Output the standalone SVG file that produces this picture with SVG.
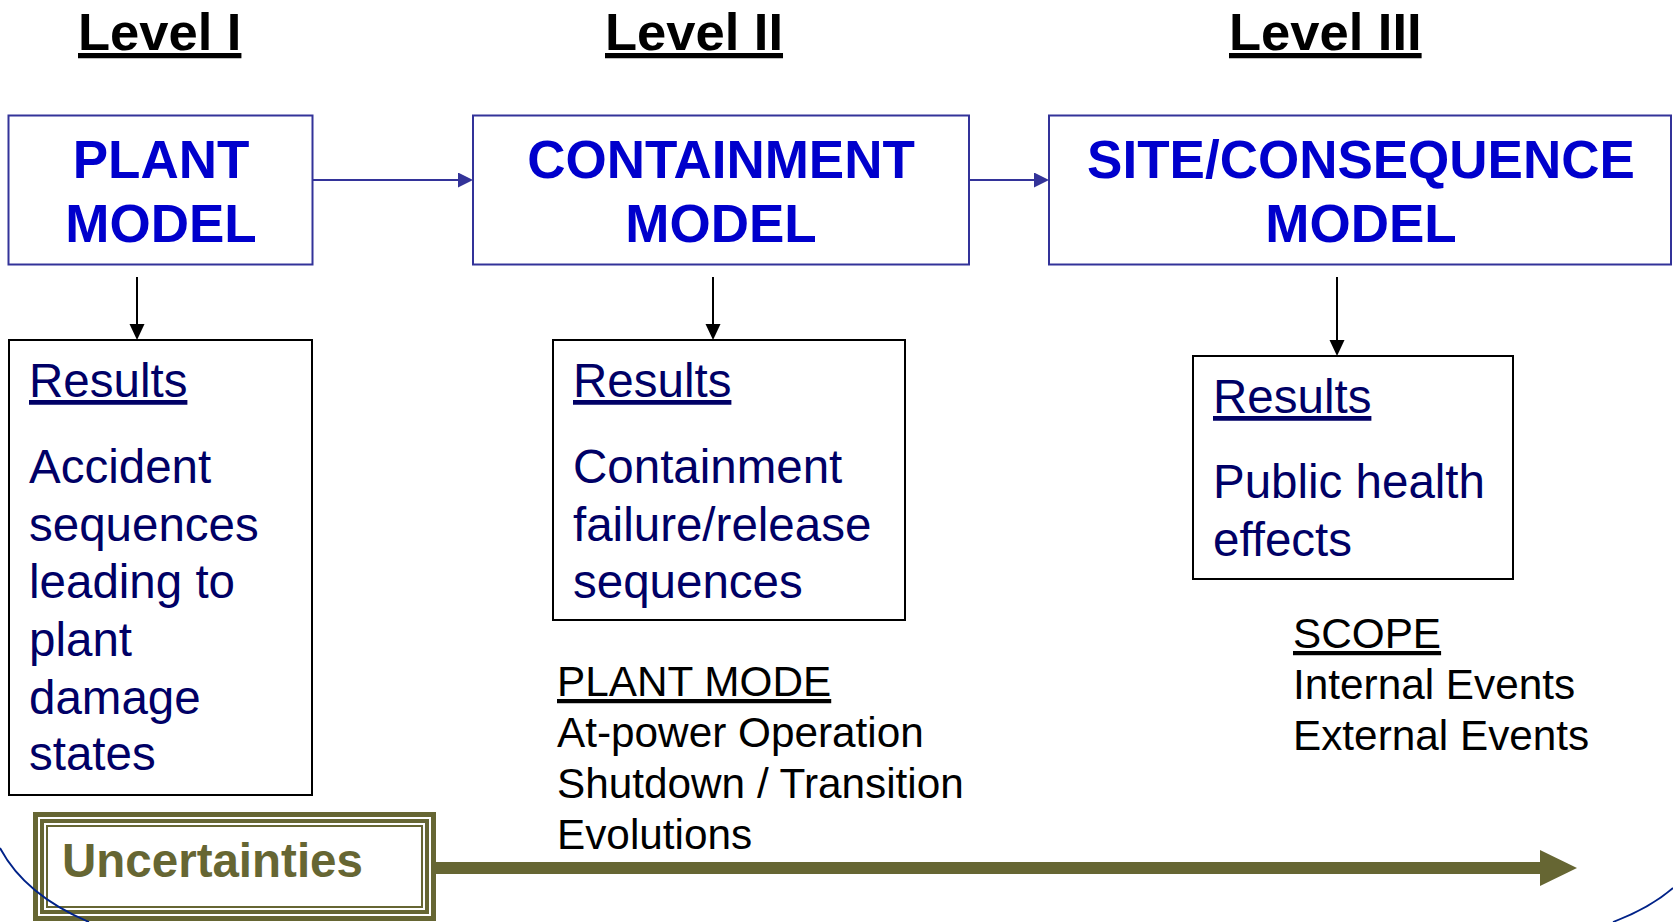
<svg xmlns="http://www.w3.org/2000/svg" width="1673" height="922" viewBox="0 0 1673 922">
  <defs>
    <marker id="arrowBlue" markerWidth="15" markerHeight="15" refX="1" refY="7.5" orient="auto" markerUnits="userSpaceOnUse">
      <path d="M0,0 L15,7.5 L0,15 Z" fill="#333399"/>
    </marker>
    <marker id="arrowBlack" markerWidth="16" markerHeight="16" refX="1" refY="8" orient="auto" markerUnits="userSpaceOnUse">
      <path d="M0,0.5 L16,8 L0,15.5 Z" fill="#000000"/>
    </marker>
    <marker id="arrowOlive" markerWidth="38" markerHeight="36" refX="1" refY="18" orient="auto" markerUnits="userSpaceOnUse">
      <path d="M0,0 L37,18 L0,36 Z" fill="#666633"/>
    </marker>
  </defs>
  <style>
    .level { font-family: "Liberation Sans", Arial, sans-serif; font-weight: bold; font-size: 52.5px; fill: #000000; text-decoration: underline; }
    .model-box { fill: #ffffff; stroke: #333399; stroke-width: 2; }
    .model { font-family: "Liberation Sans", Arial, sans-serif; font-weight: bold; font-size: 53px; fill: #0000cc; text-anchor: middle; }
    .res-box { fill: #ffffff; stroke: #000000; stroke-width: 2; }
    .res { font-family: "Liberation Sans", Arial, sans-serif; font-size: 47.5px; fill: #000066; }
    .res-head { text-decoration: underline; }
    .note { font-family: "Liberation Sans", Arial, sans-serif; font-size: 42.3px; fill: #000000; }
    .note-head { text-decoration: underline; }
    .flow { fill: none; stroke: #333399; stroke-width: 2; marker-end: url(#arrowBlue); }
    .down { fill: none; stroke: #000000; stroke-width: 2; marker-end: url(#arrowBlack); }
    .frame { fill: none; stroke: #666633; }
    .unc { font-family: "Liberation Sans", Arial, sans-serif; font-weight: bold; font-size: 47.5px; fill: #666633; }
    .arc { fill: none; stroke: #002288; stroke-width: 1.8; }
  </style>

  <!-- level headings -->
  <g id="headings">
    <text class="level" x="78" y="50">Level I</text>
    <text class="level" x="605" y="50">Level II</text>
    <text class="level" x="1229" y="50">Level III</text>
  </g>

  <!-- model boxes -->
  <g id="plant-model">
    <rect class="model-box" x="8.5" y="115.5" width="304" height="149"/>
    <text class="model" x="161" y="178">PLANT</text>
    <text class="model" x="161" y="242">MODEL</text>
  </g>
  <g id="containment-model">
    <rect class="model-box" x="473" y="115.5" width="496" height="149"/>
    <text class="model" x="721" y="178">CONTAINMENT</text>
    <text class="model" x="721" y="242">MODEL</text>
  </g>
  <g id="site-model">
    <rect class="model-box" x="1049" y="115.5" width="622" height="149"/>
    <text class="model" x="1361" y="178">SITE/CONSEQUENCE</text>
    <text class="model" x="1361" y="242">MODEL</text>
  </g>

  <!-- result boxes -->
  <g id="plant-results">
    <rect class="res-box" x="9" y="340" width="303" height="455"/>
    <text class="res res-head" x="29" y="397">Results</text>
    <text class="res" x="29" y="483">Accident</text>
    <text class="res" x="29" y="541">sequences</text>
    <text class="res" x="29" y="598">leading to</text>
    <text class="res" x="29" y="656">plant</text>
    <text class="res" x="29" y="714">damage</text>
    <text class="res" x="29" y="770">states</text>
  </g>
  <g id="containment-results">
    <rect class="res-box" x="553" y="340" width="352" height="280"/>
    <text class="res res-head" x="573" y="397">Results</text>
    <text class="res" x="573" y="483">Containment</text>
    <text class="res" x="573" y="541">failure/release</text>
    <text class="res" x="573" y="598">sequences</text>
  </g>
  <g id="site-results">
    <rect class="res-box" x="1193" y="356" width="320" height="223"/>
    <text class="res res-head" x="1213" y="413">Results</text>
    <text class="res" x="1213" y="498">Public health</text>
    <text class="res" x="1213" y="556">effects</text>
  </g>

  <!-- side notes -->
  <g id="plant-mode">
    <text class="note note-head" x="557" y="696">PLANT MODE</text>
    <text class="note" x="557" y="747">At-power Operation</text>
    <text class="note" x="557" y="798">Shutdown / Transition</text>
    <text class="note" x="557" y="849">Evolutions</text>
  </g>
  <g id="scope">
    <text class="note note-head" x="1293" y="648">SCOPE</text>
    <text class="note" x="1293" y="699">Internal Events</text>
    <text class="note" x="1293" y="750">External Events</text>
  </g>

  <!-- uncertainties box -->
  <g id="uncertainties">
    <rect class="frame" x="35.5" y="814.5" width="398" height="104" stroke-width="5"/>
    <rect class="frame" x="42" y="821" width="385" height="91" stroke-width="4"/>
    <rect class="frame" x="47" y="826" width="375" height="81" stroke-width="2"/>
    <text class="unc" x="62" y="877">Uncertainties</text>
  </g>

  <!-- connectors -->
  <g id="connectors">
    <line class="flow" x1="313" y1="180" x2="459" y2="180"/>
    <line class="flow" x1="969" y1="180" x2="1035" y2="180"/>
    <line class="down" x1="137" y1="277" x2="137" y2="325"/>
    <line class="down" x1="713" y1="277" x2="713" y2="325"/>
    <line class="down" x1="1337" y1="277" x2="1337" y2="341"/>
    <line x1="436" y1="868" x2="1541" y2="868" stroke="#666633" stroke-width="12" marker-end="url(#arrowOlive)"/>
  </g>

  <!-- background arcs at the lower corners -->
  <g id="arcs">
    <path class="arc" d="M0,848 Q25,895 89,922"/>
    <path class="arc" d="M1613,922 Q1650,908 1673,888"/>
  </g>
</svg>
